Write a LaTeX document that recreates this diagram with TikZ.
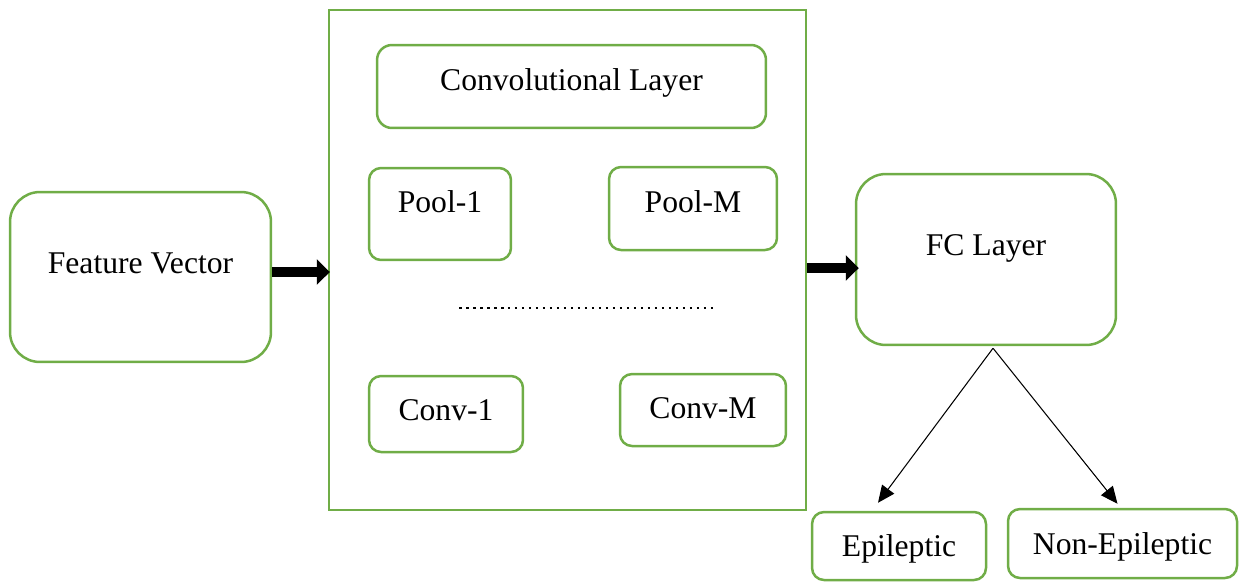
\documentclass[tikz,border=0pt]{standalone}
\usepackage{fontspec}
\setmainfont{Liberation Serif}
\usetikzlibrary{calc,arrows.meta}

\definecolor{boxgreen}{RGB}{112,173,71}

\begin{document}
\begin{tikzpicture}[x=0.02cm,y=-0.02cm,
    box/.style={draw=boxgreen, line width=0.05cm, rounded corners=0.24cm,
        font=\fontsize{18}{21}\selectfont, text height=0.45cm},
    bigarrow/.style={line width=0.2cm, -{Triangle[length=0.26cm,width=0.5cm]}},
    thinarrow/.style={line width=0.6pt, -{Triangle[length=0.34cm,width=0.3cm]}}]

    % page size of the reference
    \useasboundingbox (0,0) rectangle (1239,582);

    % input
    \node[box, rounded corners=0.6cm, minimum width=5.22cm, minimum height=3.4cm,
        text depth=0.59cm] (feat) at (140.5,277) {Feature Vector};

    % CNN block
    \node[draw=boxgreen, line width=0.05cm, minimum width=9.54cm, minimum height=10cm]
        (cnn) at (567.5,260) {};
    \node[box, rounded corners=0.3cm, minimum width=7.78cm, minimum height=1.66cm,
        text depth=0.29cm] (convlayer) at (571.5,86.5) {Convolutional Layer};
    \node[box, minimum width=2.84cm, minimum height=1.84cm,
        text depth=0.51cm] (pool1) at (440,214) {Pool-1};
    \node[box, minimum width=3.36cm, minimum height=1.66cm,
        text depth=0.29cm] (poolM) at (693,208.5) {Pool-M};
    \node[box, minimum width=3.08cm, minimum height=1.52cm,
        text depth=0.19cm] (conv1) at (446,414) {Conv-1};
    \node[box, minimum width=3.32cm, minimum height=1.44cm,
        text depth=0.11cm] (convM) at (703,410) {Conv-M};

    % dots between the rows
    \coordinate (dotsL) at (459,308);
    \coordinate (dotsR) at (714,308);
    \draw[line width=0.055cm, dash pattern=on 0.05cm off 0.09cm] (dotsL) -- (dotsR);

    % fully connected layer and outputs
    \node[box, rounded corners=0.6cm, minimum width=5.2cm, minimum height=3.42cm,
        text depth=0.61cm] (fc) at (986,259.5) {FC Layer};
    \node[box, minimum width=3.48cm, minimum height=1.36cm,
        text depth=0.05cm] (epi) at (899,546) {Epileptic};
    \node[box, minimum width=4.58cm, minimum height=1.38cm,
        text depth=0.03cm] (nonepi) at (1122.5,543.5) {Non-Epileptic};

    % thick arrows
    \draw[bigarrow] ($(feat.east)+(0,-5)$) -- ($(feat.east -| cnn.west)+(2,-5)$);
    \draw[bigarrow] ($(cnn.east)+(0,8)$) -- ($(cnn.east -| fc.west)+(4,8)$);

    % split to the classes
    \coordinate (fork) at ($(fc.south)+(7,2)$);
    \coordinate (epiTip) at ($(epi.north)+(-21,-8)$);
    \coordinate (nonTip) at ($(nonepi.north)+(-5,-4)$);
    \draw[thinarrow] (fork) -- (epiTip);
    \draw[thinarrow] (fork) -- (nonTip);

\end{tikzpicture}
\end{document}
